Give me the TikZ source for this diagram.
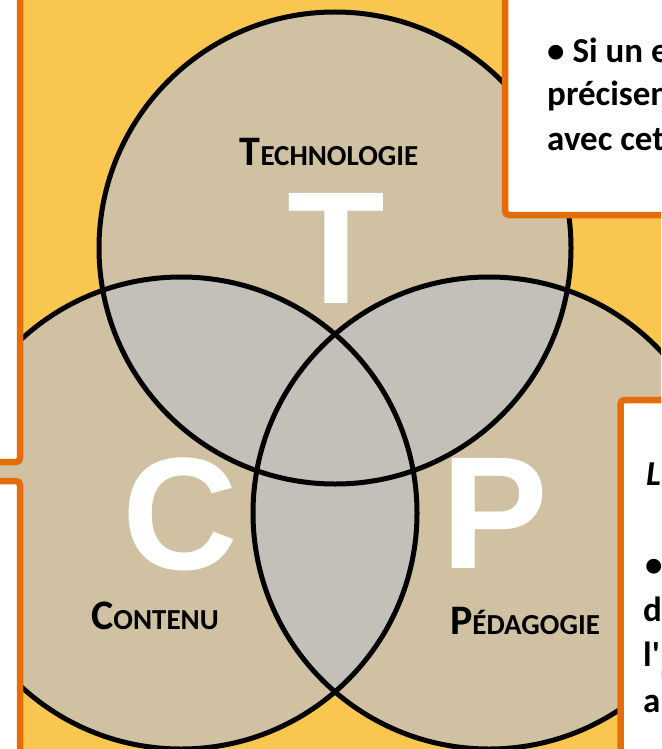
\documentclass[tikz,border=0pt]{standalone}
\usepackage{fontspec}
\setmainfont{Carlito}
\newfontfamily\grandfont{Liberation Sans}
\definecolor{fond}{RGB}{249,199,79}
\definecolor{disque}{RGB}{207,193,162}
\definecolor{inter}{RGB}{194,192,184}
\definecolor{cadre}{RGB}{228,108,10}
\newcommand{\PetCap}[2]{{\fontsize{42}{42}\selectfont #1}{\fontsize{29}{29}\selectfont #2}}

\begin{document}
\begin{tikzpicture}[x=1pt, y=-1pt,
    nomcercle/.style={font=\bfseries, anchor=base, inner sep=0pt},
    lettre/.style={font=\grandfont\bfseries\fontsize{160}{160}\selectfont, text=white},
    boite/.style={draw=cadre, line width=6.5pt, fill=white, rounded corners=4pt},
    texte/.style={font=\bfseries\fontsize{35}{44}\selectfont, anchor=base west, inner sep=0pt}]

    \useasboundingbox (0,0) rectangle (661,749);
    \clip (0,0) rectangle (661,749);
    \fill[fond] (0,0) rectangle (661,749);

    \coordinate (cT) at (335,248);
    \coordinate (cC) at (181,513);
    \coordinate (cP) at (489,513);

    % disques et intersections
    \foreach \c in {cT,cC,cP} \fill[disque] (\c) circle[radius=236];
    \begin{scope}
        \clip (cT) circle[radius=236];
        \fill[inter] (cC) circle[radius=236];
        \fill[inter] (cP) circle[radius=236];
    \end{scope}
    \begin{scope}
        \clip (cC) circle[radius=236];
        \fill[inter] (cP) circle[radius=236];
    \end{scope}
    \foreach \c in {cT,cC,cP} \draw[line width=5pt] (\c) circle[radius=236];

    \draw(336,248) node[lettre] (T) {T};
    \draw(180,514) node[lettre] (C) {C};
    \draw(495,513) node[lettre] (P) {P};
    \draw(329,165) node[nomcercle] (techno) {\PetCap{T}{ECHNOLOGIE}};
    \draw(155,629) node[nomcercle] (contenu) {\PetCap{C}{ONTENU}};
    \draw(525,634) node[nomcercle] (pedago) {\PetCap{P}{ÉDAGOGIE}};

    % cadres
    \draw[boite] (-20,-20) rectangle (20,462);
    \draw[boite] (-20,481) rectangle (20,769);
    \draw[boite] (505,-20) rectangle (700,215);
    \draw[boite] (620.5,400) rectangle (700,769);

    \draw(547,63) node[texte] (si) {• Si un e};
    \draw(547,106) node[texte] (precis) {précisen};
    \draw(547,150) node[texte] (avec) {avec cet};
    \draw(646,485) node[texte, font=\bfseries\itshape\fontsize{35}{44}\selectfont] (L) {L};
    \draw(645,576) node[texte] (puce) {•};
    \draw(643,621) node[texte] (d) {d};
    \draw(643,666) node[texte] (l) {l\textquotesingle};
    \draw(643,712) node[texte] (a) {a};

\end{tikzpicture}
\end{document}
